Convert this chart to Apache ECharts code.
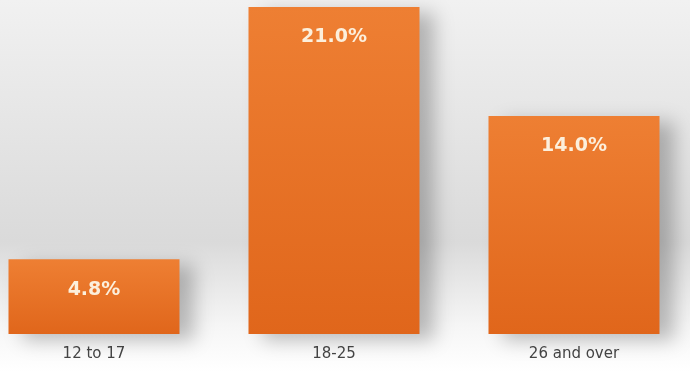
<!DOCTYPE html>
<html>
<head>
<meta charset="utf-8">
<script src="https://cdn.jsdelivr.net/npm/echarts@6/dist/echarts.min.js"></script>
<style>
  html, body { margin: 0; padding: 0; }
  #chart { width: 690px; height: 372px; }
</style>
</head>
<body>
<div id="chart"></div>
<script>
const ageGroups = ['12 to 17', '18-25', '26 and over']
const shares = [4.8, 21.0, 14.0]

const chart = echarts.init(document.getElementById('chart'))

// x positions are category indexes; the value axis lets the bars sit wider apart than the page
const barData = shares.map((v, i) => [i, v])

const option = {
  backgroundColor: new echarts.graphic.LinearGradient(0, 0, 0, 1, [
    { offset: 0, color: '#f1f1f1' },
    { offset: 0.65, color: '#dadada' },
    { offset: 0.88, color: '#f6f6f6' },
    { offset: 1, color: '#ffffff' }
  ]),
  grid: {
    left: 0,
    right: 0,
    top: 7,
    bottom: 38
  },
  xAxis: {
    type: 'value',
    min: -94 / 240,
    max: -94 / 240 + 690 / 240,
    axisLine: { show: false },
    axisTick: { show: false },
    splitLine: { show: false },
    axisLabel: {
      customValues: [0, 1, 2],
      formatter: v => ageGroups[Math.round(v)],
      margin: 13,
      color: '#454545',
      fontSize: 15,
      fontFamily: 'DejaVu Sans'
    }
  },
  yAxis: {
    type: 'value',
    min: 0,
    max: 21,
    show: false,
    splitLine: { show: false }
  },
  series: [
    {
      type: 'bar',
      data: barData,
      barWidth: 171,
      itemStyle: {
        color: new echarts.graphic.LinearGradient(0, 0, 0, 1, [
          { offset: 0, color: '#ee7f33' },
          { offset: 1, color: '#e0661b' }
        ]),
        shadowColor: 'rgba(0, 0, 0, 0.25)',
        shadowBlur: 18,
        shadowOffsetX: 14,
        shadowOffsetY: 6
      },
      label: {
        show: true,
        position: 'insideTop',
        distance: 21,
        color: '#fcefdc',
        fontSize: 19,
        fontWeight: 'bold',
        fontFamily: 'DejaVu Sans',
        formatter: p => p.value[1].toFixed(1) + '%'
      }
    }
  ]
}

chart.setOption(option)
</script>
</body>
</html>
